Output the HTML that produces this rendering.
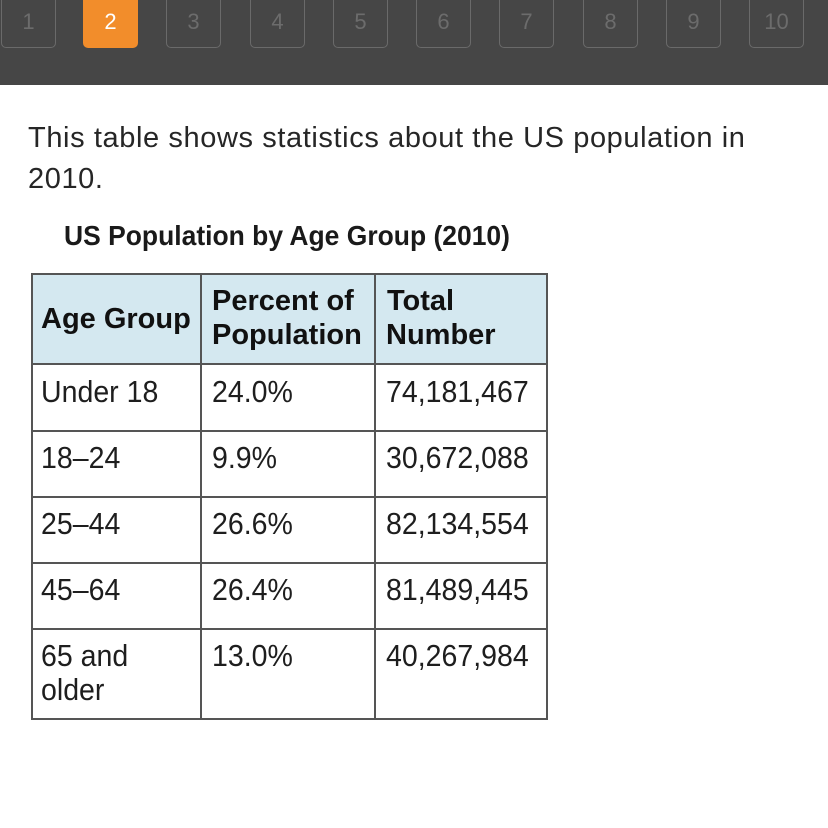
<!DOCTYPE html>
<html>
<head>
<meta charset="utf-8">
<style>
  html, body { margin:0; padding:0; }
  body { width:828px; height:828px; position:relative; overflow:hidden; background:#ffffff; font-family:"Liberation Sans", Arial, sans-serif; }
  .bar { position:absolute; left:0; top:0; width:828px; height:85px; background:#464646; }
  .btn { position:absolute; top:-10px; width:55px; height:58px; box-sizing:border-box; border:1.5px solid #6a6a6a; border-radius:5px; }
  .btn span { position:absolute; left:0; right:0; top:20px; text-align:center; font-size:22px; line-height:22px; color:#6c6c6c; }
  .btn.on { background:#f28d2b; border-color:#f28d2b; }
  .btn.on span { color:#ffffff; }
  .t { position:absolute; white-space:nowrap; line-height:1; }
  .p { font-size:29px; color:#262626; letter-spacing:0.6px; left:28px; }
  .title { font-size:28px; font-weight:bold; color:#1a1a1a; left:64px; top:222px; transform:scaleX(0.945); transform-origin:left top; }
  .hd { font-size:29px; font-weight:bold; color:#111; }
  .bd { font-size:31px; color:#1e1e1e; transform:scaleX(0.92); transform-origin:left top; }
  .hl { position:absolute; left:32px; width:515px; height:2px; background:#555; }
  .vl { position:absolute; top:274px; width:2px; height:445px; background:#555; }
</style>
</head>
<body>
  <div class="bar"></div>
  <div class="btn" style="left:1px"><span>1</span></div>
  <div class="btn on" style="left:83px"><span>2</span></div>
  <div class="btn" style="left:166px"><span>3</span></div>
  <div class="btn" style="left:250px"><span>4</span></div>
  <div class="btn" style="left:333px"><span>5</span></div>
  <div class="btn" style="left:416px"><span>6</span></div>
  <div class="btn" style="left:499px"><span>7</span></div>
  <div class="btn" style="left:583px"><span>8</span></div>
  <div class="btn" style="left:666px"><span>9</span></div>
  <div class="btn" style="left:749px"><span>10</span></div>

  <div class="t p" style="top:124px">This table shows statistics about the US population in</div>
  <div class="t p" style="top:165px">2010.</div>

  <div class="t title">US Population by Age Group (2010)</div>

  <!-- table -->
  <div style="position:absolute; left:32px; top:274px; width:515px; height:90px; background:#d4e8f0;"></div>
  <div style="position:absolute; left:31px; top:273px; width:517px; height:447px; box-sizing:border-box; border:2px solid #555;"></div>
  <div class="vl" style="left:200px"></div>
  <div class="vl" style="left:374px"></div>
  <div class="hl" style="top:363px"></div>
  <div class="hl" style="top:430px"></div>
  <div class="hl" style="top:496px"></div>
  <div class="hl" style="top:562px"></div>
  <div class="hl" style="top:628px"></div>

  <div class="t hd" style="left:41px; top:305px">Age Group</div>
  <div class="t hd" style="left:212px; top:287px">Percent of</div>
  <div class="t hd" style="left:212px; top:321px">Population</div>
  <div class="t hd" style="left:387px; top:287px">Total</div>
  <div class="t hd" style="left:386px; top:321px">Number</div>

  <div class="t bd" style="left:41px; top:376px">Under 18</div>
  <div class="t bd" style="left:212px; top:376px">24.0%</div>
  <div class="t bd" style="left:386px; top:376px">74,181,467</div>

  <div class="t bd" style="left:41px; top:442px">18–24</div>
  <div class="t bd" style="left:212px; top:442px">9.9%</div>
  <div class="t bd" style="left:386px; top:442px">30,672,088</div>

  <div class="t bd" style="left:41px; top:508px">25–44</div>
  <div class="t bd" style="left:212px; top:508px">26.6%</div>
  <div class="t bd" style="left:386px; top:508px">82,134,554</div>

  <div class="t bd" style="left:41px; top:574px">45–64</div>
  <div class="t bd" style="left:212px; top:574px">26.4%</div>
  <div class="t bd" style="left:386px; top:574px">81,489,445</div>

  <div class="t bd" style="left:41px; top:640px">65 and</div>
  <div class="t bd" style="left:41px; top:674px">older</div>
  <div class="t bd" style="left:212px; top:640px">13.0%</div>
  <div class="t bd" style="left:386px; top:640px">40,267,984</div>
</body>
</html>
